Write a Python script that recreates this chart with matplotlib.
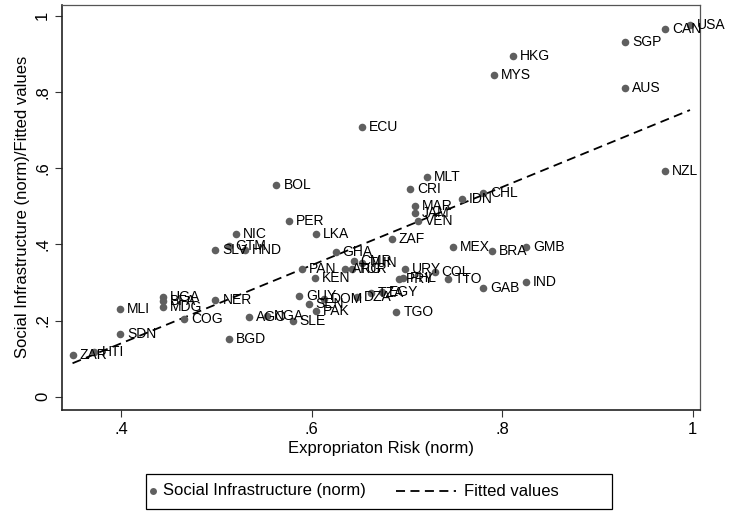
import numpy as np
import matplotlib
matplotlib.use("Agg")
import matplotlib.pyplot as plt
from matplotlib.lines import Line2D
from matplotlib.patches import Rectangle

plt.rcParams['font.family'] = ['Liberation Sans', 'DejaVu Sans']

# Country codes, expropriation risk (x) and social infrastructure (y)
codes = ["USA", "CAN", "SGP", "AUS", "HKG", "MYS", "NZL", "ECU", "MLT", "CRI",
         "MAR", "JAM", "VEN", "IDN", "CHL", "ZAF", "MEX", "BRA", "GMB", "IND",
         "GAB", "TTO", "COL", "URY", "PRY", "PHL", "TGO", "BOL", "PER", "LKA",
         "NIC", "GTM", "SLV", "HND", "GHA", "CMR", "TUN", "PAN", "ARG", "TUR",
         "KEN", "GUY", "SEN", "PAK", "SLE", "DOM", "DZA", "TZA", "EGY", "AGO",
         "NGA", "BGD", "COG", "NER", "UGA", "BFA", "MDG", "MLI", "SDN", "ZAR",
         "HTI"]
risk = [0.997, 0.971, 0.929, 0.929, 0.811, 0.791, 0.971, 0.653, 0.721, 0.703,
        0.708, 0.708, 0.712, 0.758, 0.780, 0.684, 0.748, 0.789, 0.825, 0.825,
        0.780, 0.743, 0.729, 0.698, 0.692, 0.696, 0.689, 0.563, 0.576, 0.604,
        0.521, 0.513, 0.499, 0.530, 0.625, 0.644, 0.653, 0.590, 0.635, 0.642,
        0.603, 0.587, 0.597, 0.604, 0.580, 0.613, 0.648, 0.662, 0.674, 0.534,
        0.553, 0.513, 0.466, 0.499, 0.444, 0.444, 0.444, 0.399, 0.399, 0.349,
        0.372]
social = [0.976, 0.965, 0.931, 0.809, 0.894, 0.844, 0.592, 0.709, 0.577, 0.544,
          0.501, 0.481, 0.462, 0.518, 0.534, 0.413, 0.394, 0.382, 0.392, 0.302,
          0.285, 0.309, 0.327, 0.335, 0.309, 0.312, 0.222, 0.555, 0.462, 0.428,
          0.426, 0.396, 0.385, 0.386, 0.380, 0.356, 0.350, 0.335, 0.335, 0.335,
          0.311, 0.264, 0.243, 0.225, 0.199, 0.256, 0.262, 0.272, 0.275, 0.210,
          0.212, 0.151, 0.204, 0.254, 0.262, 0.251, 0.236, 0.230, 0.165, 0.110,
          0.117]

xticks = [0.4, 0.6, 0.8, 1.0]
xtick_labels = [".4", ".6", ".8", "1"]
yticks = [0, 0.2, 0.4, 0.6, 0.8, 1.0]
ytick_labels = ["0", ".2", ".4", ".6", ".8", "1"]
legend_labels = ["Social Infrastructure (norm)", "Fitted values"]


def main():
    x = np.array(risk)
    y = np.array(social)

    # linear fit, as in the "Fitted values" line
    b, a = np.polyfit(x, y, 1)
    xf = np.array([x.min(), x.max()])
    yf = a + b * xf

    fig = plt.figure(figsize=(7.3, 5.12), dpi=100)
    ax = fig.add_axes([0.085, 0.199, 0.874, 0.792])

    dot = "#5f5f5f"
    dash = (0, (5, 3))
    ax.scatter(x, y, s=30, color=dot, zorder=3, linewidths=0)
    ax.plot(xf, yf, color="black", lw=1.3, ls=dash, zorder=2)

    for c, xi, yi in zip(codes, x, y):
        ax.annotate(c, (xi, yi), xytext=(5, 0), textcoords="offset points",
                    va="center", ha="left", fontsize=10, color="black", zorder=4)

    ax.set_xlim(0.338, 1.0076)
    ax.set_ylim(-0.035, 1.029)
    ax.set_xticks(xticks)
    ax.set_xticklabels(xtick_labels)
    ax.set_yticks(yticks)
    ax.set_yticklabels(ytick_labels, rotation=90, va="center")
    ax.tick_params(labelsize=12, length=5, width=0.8, color="#333333")

    for side in ["left", "bottom"]:
        ax.spines[side].set_color("#222222")
        ax.spines[side].set_linewidth(1.2)
    for side in ["top", "right"]:
        ax.spines[side].set_color("#555555")
        ax.spines[side].set_linewidth(0.9)

    ax.set_xlabel("Expropriaton Risk (norm)", fontsize=12, labelpad=3)
    ax.set_ylabel("Social Infrastructure (norm)/Fitted values", fontsize=12, labelpad=4)

    # Stata-like legend box under the plot, drawn in figure pixels
    W, H = 730.0, 512.0
    def fx(px):
        return px / W
    def fy(py):
        return 1 - py / H

    fig.patches.append(Rectangle((fx(146), fy(509)), fx(612) - fx(146), fy(474) - fy(509),
                                 transform=fig.transFigure, fill=False,
                                 edgecolor="black", lw=0.9))
    fig.lines.append(Line2D([fx(153)], [fy(491)], marker="o", ls="none",
                            color=dot, markersize=5, markeredgewidth=0,
                            transform=fig.transFigure))
    fig.text(fx(163), fy(491), legend_labels[0], fontsize=12, va="center", ha="left")
    fig.lines.append(Line2D([fx(396), fx(456)], [fy(491), fy(491)], color="black",
                            lw=1.3, ls=dash, transform=fig.transFigure))
    fig.text(fx(464), fy(491), legend_labels[1], fontsize=12, va="center", ha="left")

    fig.savefig("out.png", dpi=100)

    return None


if __name__ == "__main__":
    main()
